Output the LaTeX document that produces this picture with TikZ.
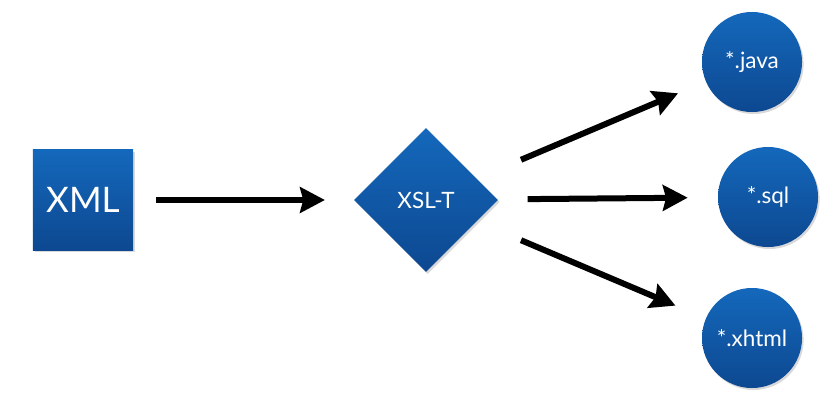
\documentclass[tikz,border=0pt]{standalone}
\usepackage{fontspec}
\setmainfont{Lato}
\usepackage{tikz}
\usetikzlibrary{shapes.geometric, arrows.meta, shadows}
\definecolor{bluetop}{HTML}{1468BB}
\definecolor{bluebottom}{HTML}{0D4891}
\definecolor{darkgray}{HTML}{000000}
\tikzset{
  source/.style={
    rectangle, minimum width=2.5cm, minimum height=2.5cm,
    inner sep=0pt, top color=bluetop, bottom color=bluebottom,
    text=white, font=\fontsize{25}{30}\selectfont,
    drop shadow={opacity=0.3, shadow xshift=0.04cm, shadow yshift=-0.05cm},
  },
  transform/.style={
    diamond, aspect=1, minimum width=3.6cm, minimum height=3.6cm,
    inner sep=0pt, top color=bluetop, bottom color=bluebottom,
    text=white, font=\fontsize{16}{19}\selectfont,
    drop shadow={opacity=0.3, shadow xshift=0.04cm, shadow yshift=-0.05cm},
  },
  output/.style={
    circle, minimum size=2.5cm, inner sep=0pt,
    top color=bluetop, bottom color=bluebottom,
    text=white, font=\fontsize{16}{19}\selectfont,
    drop shadow={opacity=0.3, shadow xshift=0.04cm, shadow yshift=-0.05cm},
  },
  arrow/.style={-{Stealth[length=0.62cm, width=0.64cm, inset=0.08cm]}, line width=0.15cm, color=darkgray},
}
\begin{document}
\begin{tikzpicture}[x=0.025cm, y=-0.025cm]

  \useasboundingbox (0,0) rectangle (839,401);

  \node[source] (xml) at (83,200) {XML};
  \node[transform] (xslt) at (426,200) {XSL-T};
  \node[output] (java) at (752,62) {*.java};
  \node[output] (sql) at (768,197) {*.sql};
  \node[output] (xhtml) at (752,338) {*.xhtml};

  \draw[arrow, shorten <=0.575cm, shorten >=0.72cm] (xml) -- (xslt);
  \draw[arrow, shorten <=1.2cm, shorten >=0.75cm] (xslt) -- (java);
  \draw[arrow, shorten <=0.75cm, shorten >=0.75cm] (xslt) -- (sql);
  \draw[arrow, shorten <=1.2cm, shorten >=0.82cm] (xslt) -- (xhtml);

\end{tikzpicture}
\end{document}
